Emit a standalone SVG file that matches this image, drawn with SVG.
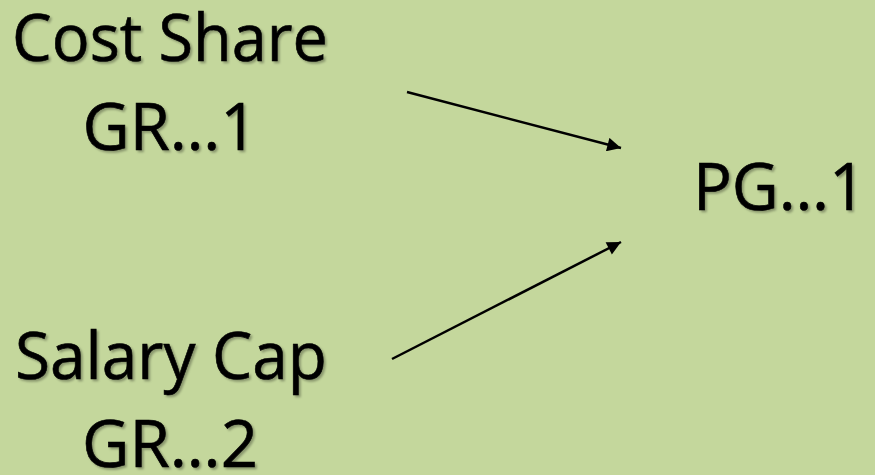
<svg xmlns="http://www.w3.org/2000/svg" width="875" height="475" viewBox="0 0 875 475">
  <defs>
    <filter id="shadow" x="-10%" y="-30%" width="120%" height="160%">
      <feDropShadow dx="2" dy="2" stdDeviation="1" flood-color="#000" flood-opacity="0.3"/>
    </filter>
    <marker id="arrow" viewBox="0 0 10 10" refX="10" refY="5" markerWidth="6.5" markerHeight="5.5" markerUnits="strokeWidth" orient="auto">
      <path d="M0,0 L10,5 L0,10 Z" fill="#000"/>
    </marker>
  </defs>
  <style>
    .label { font-family: "Open Sans", "Noto Sans", sans-serif; font-size: 65px; fill: #000; stroke: #000; stroke-width: 0.6; text-anchor: middle; filter: url(#shadow); }
    .edge { stroke: #000; stroke-width: 2.5; fill: none; marker-end: url(#arrow); }
  </style>
  <rect width="875" height="475" fill="#C4D79C"/>

  <g id="cost-share">
    <text class="label" x="170" y="61" textLength="316" lengthAdjust="spacingAndGlyphs">Cost Share</text>
    <text class="label" x="170" y="150" textLength="175" lengthAdjust="spacingAndGlyphs">GR…1</text>
  </g>

  <g id="salary-cap">
    <text class="label" x="171" y="379" textLength="312" lengthAdjust="spacingAndGlyphs">Salary Cap</text>
    <text class="label" x="170" y="467" textLength="176" lengthAdjust="spacingAndGlyphs">GR…2</text>
  </g>

  <g id="pg">
    <text class="label" x="779.5" y="210" textLength="173" lengthAdjust="spacingAndGlyphs">PG…1</text>
  </g>

  <g id="connectors">
    <line class="edge" x1="407" y1="92" x2="621" y2="148"/>
    <line class="edge" x1="392" y1="359" x2="621" y2="242"/>
  </g>
</svg>
